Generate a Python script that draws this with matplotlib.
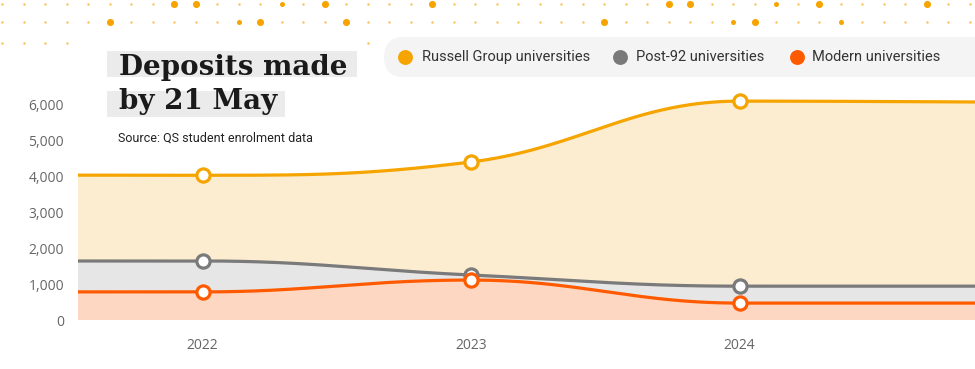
import numpy as np
import matplotlib
matplotlib.use("Agg")
import matplotlib.pyplot as plt
from matplotlib.patches import FancyBboxPatch, Rectangle

# %% Data (2021 and 2025 sit just outside the visible window).
years = [2021, 2022, 2023, 2024, 2025]
russell = [4030, 4020, 4390, 6080, 6050]
post92 = [1640, 1640, 1250, 940, 940]
modern = [780, 780, 1110, 470, 470]
y_ticks = [0, 1000, 2000, 3000, 4000, 5000, 6000]
x_ticks = [2022, 2023, 2024]

series = [
    ("Russell Group universities", russell, "#f5a400", "#fcecd0"),
    ("Post-92 universities", post92, "#7a7a7a", "#e6e6e6"),
    ("Modern universities", modern, "#ff5a00", "#fdd7c2"),
]


def smooth(xs, ys, n=80):
    # Highcharts style spline: bezier segments, no false extremes.
    xs = np.asarray(xs, float)
    ys = np.asarray(ys, float)
    k = 1.5
    lc = [(x, y) for x, y in zip(xs, ys)]
    rc = [(x, y) for x, y in zip(xs, ys)]
    for i in range(1, len(xs) - 1):
        px, py = xs[i], ys[i]
        lx, ly = xs[i - 1], ys[i - 1]
        nx, ny = xs[i + 1], ys[i + 1]
        lcx = (k * px + lx) / (k + 1)
        lcy = (k * py + ly) / (k + 1)
        rcx = (k * px + nx) / (k + 1)
        rcy = (k * py + ny) / (k + 1)
        corr = (rcy - lcy) * (rcx - px) / (rcx - lcx) + py - rcy
        lcy += corr
        rcy += corr
        if lcy > ly and lcy > py:
            lcy = max(ly, py)
            rcy = 2 * py - lcy
        elif lcy < ly and lcy < py:
            lcy = min(ly, py)
            rcy = 2 * py - lcy
        if rcy > ny and rcy > py:
            rcy = max(ny, py)
            lcy = 2 * py - rcy
        elif rcy < ny and rcy < py:
            rcy = min(ny, py)
            lcy = 2 * py - rcy
        lc[i] = (lcx, lcy)
        rc[i] = (rcx, rcy)
    t = np.linspace(0, 1, n)[:, None]
    out = []
    for i in range(len(xs) - 1):
        p0 = np.array([xs[i], ys[i]])
        p1 = np.array(rc[i])
        p2 = np.array(lc[i + 1])
        p3 = np.array([xs[i + 1], ys[i + 1]])
        b = ((1 - t) ** 3) * p0 + 3 * ((1 - t) ** 2) * t * p1 + 3 * (1 - t) * t ** 2 * p2 + t ** 3 * p3
        out.append(b if i == 0 else b[1:])
    out = np.vstack(out)
    return out[:, 0], out[:, 1]


# %% Figure.
W, H = 975, 369
fig = plt.figure(figsize=(W / 100, H / 100), dpi=100)
fig.patch.set_facecolor("white")

ax = fig.add_axes([78 / W, (H - 320) / H, 1 - 78 / W, 260 / H])
ax.set_facecolor("none")

for name, vals, line_c, fill_c in series:
    cx, cy = smooth(years, vals)
    ax.fill_between(cx, 0, cy, color=fill_c, linewidth=0)
    ax.plot(cx, cy, color=line_c, linewidth=2.3, solid_capstyle="butt")
for name, vals, line_c, fill_c in series:
    ax.plot(years, vals, linestyle="none", marker="o", markersize=9.5,
            markerfacecolor="white", markeredgecolor=line_c, markeredgewidth=2.3)

ax.set_xlim(2022 - 124.5 / 268.5, 2022 + (975 - 202.5) / 268.5)
ax.set_ylim(0, 260 / 36 * 1000)
ax.set_yticks(y_ticks)
ax.set_yticklabels([f"{v:,}" for v in y_ticks])
ax.set_xticks(x_ticks)
ax.set_xticklabels([str(v) for v in x_ticks])
ax.tick_params(axis="both", length=0, labelsize=10, labelcolor="#666666")
ax.tick_params(axis="y", pad=10)
ax.tick_params(axis="x", pad=13)
for lbl in ax.get_xticklabels() + ax.get_yticklabels():
    lbl.set_fontfamily("Open Sans")
for s in ax.spines.values():
    s.set_visible(False)

# %% Overlay in pixel coordinates: dots, title, source, legend.
ov = fig.add_axes([0, 0, 1, 1])
ov.set_xlim(0, W)
ov.set_ylim(H, 0)
ov.axis("off")
ov.patch.set_visible(False)

big_row1 = [8, 9, 15, 20, 31, 32, 38, 43]
mid_row1 = [13, 36]
big_row2 = [5, 12, 16, 28, 35]
mid_row2 = [11, 34, 39]
row3 = [0, 1, 2, 3, 17]
for row_y, bigs, mids, idx in [(4, big_row1, mid_row1, range(46)),
                               (22, big_row2, mid_row2, range(46)),
                               (43, [], [], row3)]:
    for k in idx:
        x = 2 + 21.5 * k
        if k in bigs:
            ov.scatter(x, row_y, s=26, color="#f7a400", linewidths=0)
        elif k in mids:
            ov.scatter(x, row_y, s=13, color="#f7a400", linewidths=0)
        else:
            ov.scatter(x, row_y, s=3, color="#f8c25a", linewidths=0)

ov.add_patch(Rectangle((107, 51), 250, 26, color="#ebebeb", linewidth=0))
ov.add_patch(Rectangle((107, 91), 178, 26, color="#ebebeb", linewidth=0))
ov.text(119, 75, "Deposits made", fontsize=20, fontweight="bold",
        family="DejaVu Serif", color="#1a1a1a", va="baseline")
ov.text(119, 109, "by 21 May", fontsize=20, fontweight="bold",
        family="DejaVu Serif", color="#1a1a1a", va="baseline")
ov.text(118, 138, "Source: QS student enrolment data", fontsize=9,
        family="Roboto", color="#222222", va="center")

ov.add_patch(FancyBboxPatch((384, 37), 660, 40,
                            boxstyle="round,pad=0,rounding_size=20",
                            facecolor="#f4f4f4", edgecolor="none"))
leg_x = [(405, 422), (620, 636), (797, 812)]
for (cxp, tx), (name, vals, line_c, fill_c) in zip(leg_x, series):
    ov.scatter(cxp, 57, s=115, color=line_c, linewidths=0)
    ov.text(tx, 57, name, fontsize=10.5, family="Roboto", color="#333333", va="center")

fig.savefig("out.png", dpi=100)
